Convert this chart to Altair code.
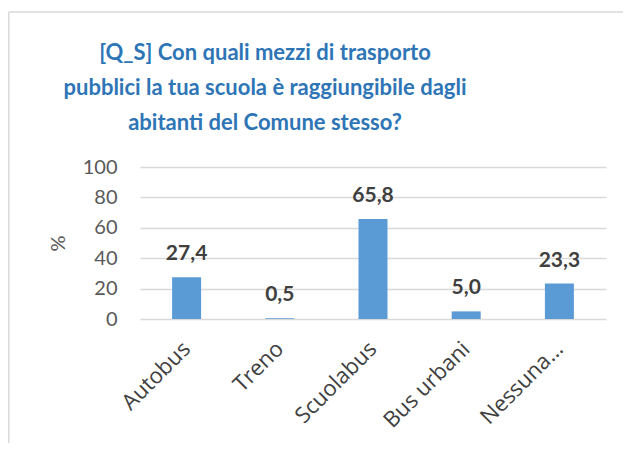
import altair as alt
import pandas as pd

categories = ["Autobus", "Treno", "Scuolabus", "Bus urbani", "Nessuna…"]
values = [27.4, 0.5, 65.8, 5.0, 23.3]
value_labels = ["27,4", "0,5", "65,8", "5,0", "23,3"]
y_ticks = [0, 20, 40, 60, 80, 100]
title_lines = ["[Q_S] Con quali mezzi di trasporto",
               "pubblici la tua scuola è raggiungibile dagli",
               "abitanti del Comune stesso?"]

df = pd.DataFrame({"cat": categories, "val": values, "lab": value_labels})

x_enc = alt.X("cat:N", sort=categories, title=None,
              scale=alt.Scale(paddingInner=0.6, paddingOuter=0.3),
              axis=alt.Axis(labelAngle=-45, labelAlign="right", labelBaseline="middle",
                            labelFont="Open Sans", labelFontSize=22, labelColor="#404040",
                            labelPadding=26, ticks=False, domain=False, grid=False,
                            labelOverlap=False))
y_enc = alt.Y("val:Q", scale=alt.Scale(domain=[0, 100], nice=False),
              axis=alt.Axis(values=y_ticks, title="%", titleAngle=270,
                            titleFont="Lato", titleFontSize=20, titleFontWeight="normal",
                            titleColor="#595959", titleX=-82, titleY=76,
                            titleAlign="center", titleBaseline="middle",
                            labelFont="Lato", labelFontSize=20, labelColor="#595959",
                            labelPadding=23, ticks=False, domain=False,
                            labelOverlap=False, labelBound=False, labelFlush=False,
                            grid=True, gridColor="#d9d9d9", gridWidth=1.3))

base = alt.Chart(df).encode(x=x_enc, y=y_enc)
bars = base.mark_bar(color="#5B9BD5", size=29)
texts = base.mark_text(font="Lato", fontSize=21, fontWeight="bold",
                       color="#404040", baseline="alphabetic", dy=-17).encode(text="lab:N")

one = alt.Data(values=[{}])
left_rule = alt.Chart(one).mark_rule(color="#d9d9d9", strokeWidth=1.5).encode(
    x=alt.value(-131.2), x2=alt.value(-131.2), y=alt.value(-155), y2=alt.value(420))
top_rule = alt.Chart(one).mark_rule(color="#d9d9d9", strokeWidth=1.5).encode(
    x=alt.value(-131.2), x2=alt.value(700), y=alt.value(-155), y2=alt.value(-155))
title_text = alt.Chart(one).mark_text(
    text=title_lines, font="Lato", fontSize=22, fontWeight="bold", color="#2E75B6",
    align="center", baseline="middle", lineHeight=35).encode(
    x=alt.value(125), y=alt.value(-114))

chart = alt.layer(left_rule, top_rule, title_text, bars, texts).properties(
    width=466, height=152,
    autosize=alt.AutoSizeParams(type="none"),
    padding={"left": 132, "top": 159, "right": 17, "bottom": 124},
).configure_view(stroke=None)

chart.save("out.html", embed_options={"renderer": "svg", "actions": False})
